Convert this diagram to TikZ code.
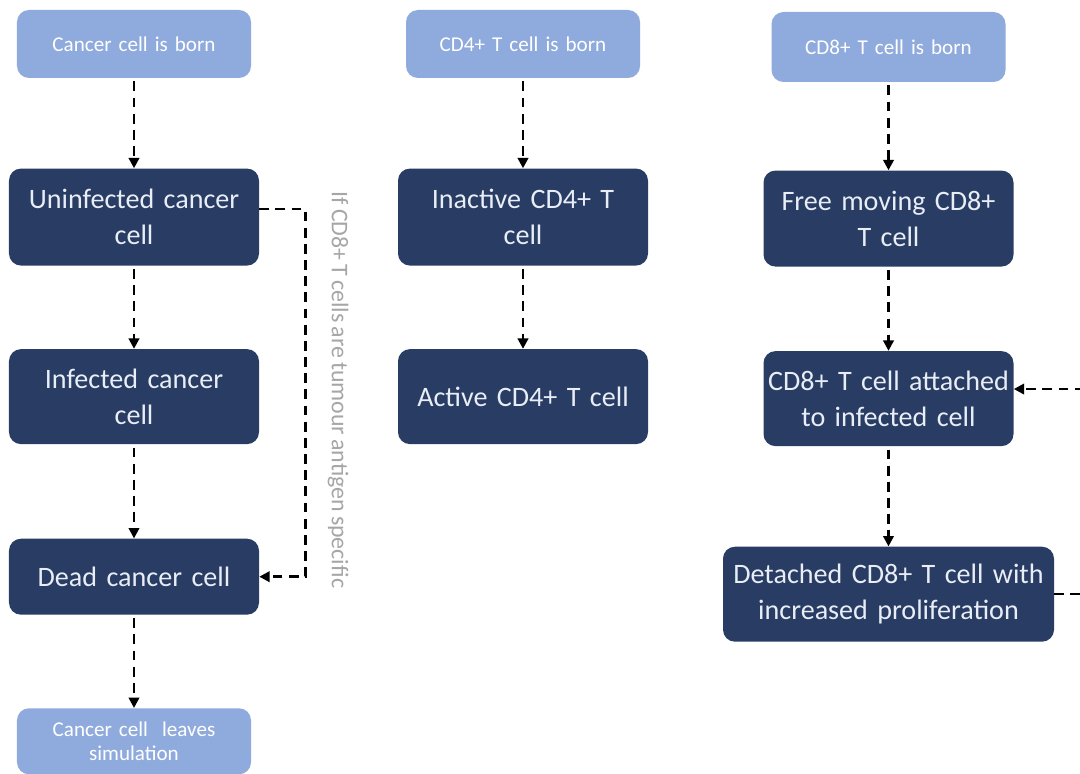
\documentclass[tikz,border=0pt]{standalone}
\usepackage{fontspec}
\setmainfont{Carlito}[WordSpace=0.75]
\usepackage{tikz}
\usetikzlibrary{arrows.meta,positioning}
\definecolor{statebg}{HTML}{283C64}
\definecolor{birthbg}{HTML}{8FAADC}
\definecolor{statetxt}{HTML}{E9EDF5}
\definecolor{notegrey}{HTML}{A6A6A6}

\begin{document}
\begin{tikzpicture}[x=0.25mm,y=-0.25mm,>={Triangle[length=2.6mm,width=2.6mm]},
  state/.style={rounded corners=3mm,fill=statebg,text=statetxt,text width=61mm,
                inner xsep=0.75mm,align=center,font=\fontsize{20}{25.5}\selectfont},
  birth/.style={rounded corners=3mm,fill=birthbg,text=white,text width=56mm,
                inner xsep=1.25mm,align=center,font=\fontsize{15}{17.7}\selectfont},
  flow/.style={->,line width=1.8pt,dash pattern=on 7pt off 4.5pt}]
  \clip (0,0) rectangle (1080,774);
  \fill[white] (0,0) rectangle (1080,774);

  % cancer cells
  \node[birth,minimum height=17mm] (cborn) at (134,44) {Cancer cell is born};
  \node[state,minimum height=24.25mm,below=22.5mm of cborn] (uninf) {Uninfected cancer\\cell};
  \node[state,minimum height=23.75mm,below=20.75mm of uninf] (inf) {Infected cancer\\cell};
  \node[state,minimum height=19mm,below=23.5mm of inf] (dead) {Dead cancer cell};
  \node[birth,minimum height=16.5mm,below=23.25mm of dead] (leave) {Cancer cell~ leaves\\simulation};

  % CD4+ T cells
  \node[birth,minimum height=17mm] (fborn) at (523,44) {CD4+ T cell is born};
  \node[state,minimum height=24.25mm,below=22.5mm of fborn] (inact) {Inactive CD4+ T\\cell};
  \node[state,minimum height=23.75mm,below=20.75mm of inact] (act) {Active CD4+ T cell};

  % CD8+ T cells
  \node[birth,minimum height=17.5mm] (eborn) at (888.5,47) {CD8+ T cell is born};
  \node[state,minimum height=24mm,below=22mm of eborn] (free) {Free moving CD8+\\T cell};
  \node[state,minimum height=23.75mm,below=21mm of free] (attach) {CD8+ T cell attached\\to infected cell};
  \node[state,minimum height=23.75mm,text width=81.25mm,below=25mm of attach] (detach)
       {Detached CD8+ T cell with\\increased proliferation};

  \node[rotate=-90,text=notegrey,font=\fontsize{17}{20}\selectfont] (note) at (338,390)
       {If CD8+ T cells are tumour antigen specific};

  \foreach \a/\b in {cborn/uninf,uninf/inf,inf/dead,dead/leave,fborn/inact,inact/act,
                     eborn/free,free/attach,attach/detach}
    \draw[flow,shorten <=0.8mm] (\a) -- (\b);
  \draw[flow] ([yshift=2mm]uninf.east) -- ++(46,0) |- (dead.east);
  \draw[flow] (detach.east) -- ++(50,0) |- ([yshift=2.4mm]attach.east);
\end{tikzpicture}
\end{document}
